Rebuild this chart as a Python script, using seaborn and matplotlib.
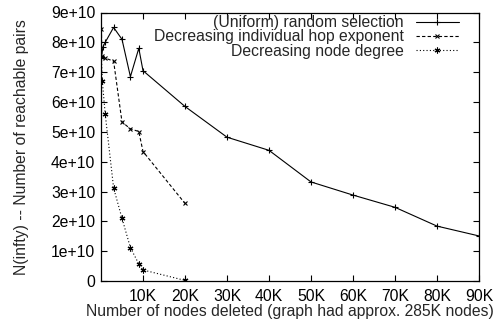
import matplotlib
matplotlib.use("Agg")
import matplotlib.pyplot as plt
import seaborn as sns
import pandas as pd
from matplotlib.ticker import FixedLocator, FixedFormatter

# Data (values in units of 1e10 reachable pairs)
uniform_x = [100, 500, 1000, 3000, 5000, 7000, 9000, 10000, 20000, 30000,
             40000, 50000, 60000, 70000, 80000, 90000]
uniform_y = [7.55, 7.85, 8.0, 8.5, 8.1, 6.85, 7.8, 7.05, 5.85, 4.82,
             4.38, 3.32, 2.88, 2.47, 1.84, 1.51]

hop_x = [100, 200, 1000, 3000, 5000, 7000, 9000, 10000, 20000]
hop_y = [8.45, 7.55, 7.47, 7.37, 5.33, 5.10, 5.01, 4.34, 2.60]

degree_x = [100, 300, 1000, 3000, 5000, 7000, 9000, 10000, 20000]
degree_y = [7.50, 6.72, 5.60, 3.12, 2.10, 1.12, 0.57, 0.37, 0.02]

labels = ["(Uniform) random selection",
          "Decreasing individual hop exponent",
          "Decreasing node degree"]
x_ticks = [10000, 20000, 30000, 40000, 50000, 60000, 70000, 80000, 90000]
x_ticklabels = ["10K", "20K", "30K", "40K", "50K", "60K", "70K", "80K", "90K"]
y_ticks = [0, 1e10, 2e10, 3e10, 4e10, 5e10, 6e10, 7e10, 8e10, 9e10]
y_ticklabels = ["0", "1e+10", "2e+10", "3e+10", "4e+10", "5e+10",
                "6e+10", "7e+10", "8e+10", "9e+10"]

sns.set_style("ticks")
plt.rcParams['font.family'] = ['Liberation Sans', 'DejaVu Sans']

fig = plt.figure(figsize=(4.94, 3.24), dpi=100)
ax = fig.add_axes([101/494, 1 - 281/324, 378/494, (281 - 12.5)/324])

fs = 11.3
asterisk = (6, 2, 0)
specs = [
    (uniform_x, uniform_y, labels[0], '-', '+', 3.8),
    (hop_x, hop_y, labels[1], (0, (3, 2)), 'x', 3.3),
    (degree_x, degree_y, labels[2], (0, (1, 2)), asterisk, 4.2),
]
for xs, ys, lab, ls, mk, ms in specs:
    df = pd.DataFrame({"x": xs, "y": [v * 1e10 for v in ys]})
    sns.lineplot(data=df, x="x", y="y", ax=ax, color="black", linewidth=0.8,
                 linestyle=ls, marker=mk, markersize=ms, markeredgewidth=0.8,
                 markeredgecolor="black", markerfacecolor="black",
                 label=lab, legend=False, errorbar=None)

ax.set_xlim(0, 90000)
ax.set_ylim(0, 9e10)
ax.xaxis.set_major_locator(FixedLocator(x_ticks))
ax.xaxis.set_major_formatter(FixedFormatter(x_ticklabels))
ax.yaxis.set_major_locator(FixedLocator(y_ticks))
ax.yaxis.set_major_formatter(FixedFormatter(y_ticklabels))
ax.tick_params(direction='in', top=True, right=True, length=4, width=0.8,
               labelsize=fs, colors='black')
ax.tick_params(axis='x', pad=6)
ax.tick_params(axis='y', pad=4)
for s in ax.spines.values():
    s.set_visible(True)
    s.set_linewidth(0.9)
    s.set_color('black')

ax.set_xlabel("Number of nodes deleted (graph had approx. 285K nodes)", fontsize=fs, labelpad=0)
ax.set_ylabel("N(infty) -- Number of reachable pairs", fontsize=fs, labelpad=16)

leg = ax.legend(loc='upper right', bbox_to_anchor=((459 - 101) / 378, 0.99),
                frameon=False, fontsize=fs, markerfirst=False,
                handlelength=2.75, handletextpad=0.75, labelspacing=-0.05,
                borderaxespad=0.0, borderpad=0.0)

fig.savefig("out.png", dpi=100)
